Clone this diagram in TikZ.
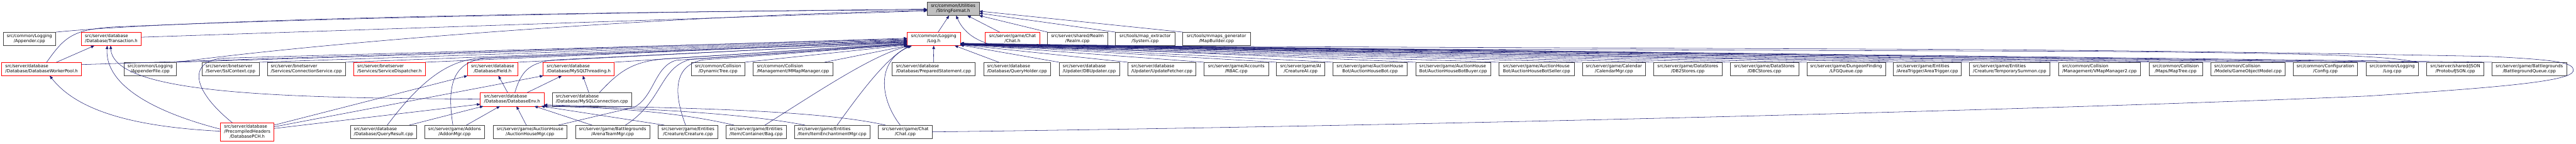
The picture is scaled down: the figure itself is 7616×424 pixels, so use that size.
\documentclass[tikz,border=0pt]{standalone}
\usepackage{fontspec}
\usetikzlibrary{arrows.meta}
\newfontfamily\dxf{DejaVu Sans}
\definecolor{edgec}{HTML}{191970}
\definecolor{bdr}{HTML}{404040}
\definecolor{gfill}{HTML}{BFBFBF}
\definecolor{rbdr}{HTML}{FF0000}
\newsavebox\lbA \newsavebox\lbB \newsavebox\lbC \newlength\lbW
\newcommand\dxl[2]{\sbox\lbA{#1}\sbox\lbB{#2}\setlength\lbW{\wd\lbA}\ifdim\wd\lbB>\lbW\setlength\lbW{\wd\lbB}\fi\begin{tabular}{@{}c@{}}\makebox[\lbW][l]{#1}\\#2\end{tabular}}
\newcommand\dxlll[3]{\sbox\lbA{#1}\sbox\lbB{#2}\sbox\lbC{#3}\setlength\lbW{\wd\lbA}\ifdim\wd\lbB>\lbW\setlength\lbW{\wd\lbB}\fi\ifdim\wd\lbC>\lbW\setlength\lbW{\wd\lbC}\fi\begin{tabular}{@{}c@{}}\makebox[\lbW][l]{#1}\\\makebox[\lbW][l]{#2}\\#3\end{tabular}}
\newcommand\nd[7]{\node[#1,minimum width={(#4-#3)*1pt},minimum height={(#6-#5)*1pt}] (#2) at ({(#3+#4)/2},{(#5+#6)/2}) {#7};}
\tikzset{
  box/.style={draw=bdr, fill=white, line width=1pt, inner sep=0pt, outer sep=0pt, font={\dxf\fontsize{12.8}{15}\selectfont}},
  rbox/.style={box, draw=rbdr},
  gbox/.style={box, fill=gfill, draw=bdr},
  inc/.style={draw=edgec, line width=1pt, -{Triangle[length=10pt,width=8pt]}},
}
\begin{document}
\begin{tikzpicture}[x=1pt,y=-1pt]
\useasboundingbox (0,0) rectangle (7616,424);
% row 0
\nd{gbox}{sf}{2741}{2895}{6}{46}{\dxl{src/common/Utilities}{/StringFormat.h}}
% row 1
\nd{box}{app}{9}{165}{95}{135}{\dxl{src/common/Logging}{/Appender.cpp}}
\nd{rbox}{tra}{241}{417}{95}{135}{\dxl{src/server/database}{/Database/Transaction.h}}
\nd{rbox}{logh}{2682}{2839}{95}{135}{\dxl{src/common/Logging}{/Log.h}}
\nd{rbox}{chath}{2913}{3074}{95}{135}{\dxl{src/server/game/Chat}{/Chat.h}}
\nd{box}{realm}{3097}{3274}{95}{135}{\dxl{src/server/shared/Realm}{/Realm.cpp}}
\nd{box}{sys}{3298}{3473}{95}{135}{\dxl{src/tools/map\_extractor}{/System.cpp}}
\nd{box}{mapb}{3497}{3696}{95}{135}{\dxl{src/tools/mmaps\_generator}{/MapBuilder.cpp}}
% row 2
\nd{rbox}{dwp}{5}{241}{184}{224}{\dxl{src/server/database}{/Database/DatabaseWorkerPool.h}}
\nd{box}{apf}{366}{522}{184}{224}{\dxl{src/common/Logging}{/AppenderFile.cpp}}
\nd{box}{ssl}{597}{766}{184}{224}{\dxl{src/server/bnetserver}{/Server/SslContext.cpp}}
\nd{box}{cons}{790}{1021}{184}{224}{\dxl{src/server/bnetserver}{/Services/ConnectionService.cpp}}
\nd{rbox}{sdis}{1046}{1257}{184}{224}{\dxl{src/server/bnetserver}{/Services/ServiceDispatcher.h}}
\nd{rbox}{field}{1382}{1531}{184}{224}{\dxl{src/server/database}{/Database/Field.h}}
\nd{rbox}{mysqlt}{1606}{1816}{184}{224}{\dxl{src/server/database}{/Database/MySQLThreading.h}}
\nd{box}{dyn}{2044}{2202}{184}{224}{\dxl{src/common/Collision}{/DynamicTree.cpp}}
\nd{box}{mmap}{2227}{2462}{184}{224}{\dxl{src/common/Collision}{/Management/MMapManager.cpp}}
\nd{box}{prep}{2637}{2883}{184}{224}{\dxl{src/server/database}{/Database/PreparedStatement.cpp}}
\nd{box}{qh}{2908}{3106}{184}{224}{\dxl{src/server/database}{/Database/QueryHolder.cpp}}
\nd{box}{dbu}{3131}{3310}{184}{224}{\dxl{src/server/database}{/Updater/DBUpdater.cpp}}
\nd{box}{upf}{3334}{3536}{184}{224}{\dxl{src/server/database}{/Updater/UpdateFetcher.cpp}}
\nd{box}{rbac}{3560}{3750}{184}{224}{\dxl{src/server/game/Accounts}{/RBAC.cpp}}
\nd{box}{cai}{3774}{3917}{184}{224}{\dxl{src/server/game/AI}{/CreatureAI.cpp}}
\nd{box}{ahb}{3941}{4160}{184}{224}{\dxl{src/server/game/AuctionHouse}{Bot/AuctionHouseBot.cpp}}
\nd{box}{ahbb}{4185}{4408}{184}{224}{\dxl{src/server/game/AuctionHouse}{Bot/AuctionHouseBotBuyer.cpp}}
\nd{box}{ahbs}{4432}{4654}{184}{224}{\dxl{src/server/game/AuctionHouse}{Bot/AuctionHouseBotSeller.cpp}}
\nd{box}{cal}{4678}{4865}{184}{224}{\dxl{src/server/game/Calendar}{/CalendarMgr.cpp}}
\nd{box}{db2}{4889}{5091}{184}{224}{\dxl{src/server/game/DataStores}{/DB2Stores.cpp}}
\nd{box}{dbc}{5115}{5318}{184}{224}{\dxl{src/server/game/DataStores}{/DBCStores.cpp}}
\nd{box}{lfg}{5342}{5574}{184}{224}{\dxl{src/server/game/DungeonFinding}{/LFGQueue.cpp}}
\nd{box}{at}{5598}{5798}{184}{224}{\dxl{src/server/game/Entities}{/AreaTrigger/AreaTrigger.cpp}}
\nd{box}{ts}{5822}{6061}{184}{224}{\dxl{src/server/game/Entities}{/Creature/TemporarySummon.cpp}}
\nd{box}{vmap}{6086}{6328}{184}{224}{\dxl{src/common/Collision}{/Management/VMapManager2.cpp}}
\nd{box}{mtree}{6353}{6512}{184}{224}{\dxl{src/common/Collision}{/Maps/MapTree.cpp}}
\nd{box}{gom}{6536}{6756}{184}{224}{\dxl{src/common/Collision}{/Models/GameObjectModel.cpp}}
\nd{box}{cfg}{6780}{6970}{184}{224}{\dxl{src/common/Configuration}{/Config.cpp}}
\nd{box}{logcpp}{6995}{7150}{184}{224}{\dxl{src/common/Logging}{/Log.cpp}}
\nd{box}{pjson}{7174}{7344}{184}{224}{\dxl{src/server/shared/JSON}{/ProtobufJSON.cpp}}
\nd{box}{bgq}{7368}{7588}{184}{224}{\dxl{src/server/game/Battlegrounds}{/BattlegroundQueue.cpp}}
% row 3
\nd{rbox}{denv}{1420}{1608}{274}{314}{\dxl{src/server/database}{/Database/DatabaseEnv.h}}
\nd{box}{mysqlc}{1633}{1867}{274}{314}{\dxl{src/server/database}{/Database/MySQLConnection.cpp}}
% row 4
\nd{rbox}{pch}{652}{810}{363}{417}{\dxlll{src/server/database}{/PrecompiledHeaders}{/DatabasePCH.h}}
\nd{box}{qr}{1037}{1231}{370}{410}{\dxl{src/server/database}{/Database/QueryResult.cpp}}
\nd{box}{addon}{1255}{1433}{370}{410}{\dxl{src/server/game/Addons}{/AddonMgr.cpp}}
\nd{box}{ahm}{1458}{1676}{370}{410}{\dxl{src/server/game/AuctionHouse}{/AuctionHouseMgr.cpp}}
\nd{box}{atm}{1701}{1921}{370}{410}{\dxl{src/server/game/Battlegrounds}{/ArenaTeamMgr.cpp}}
\nd{box}{crea}{1946}{2122}{370}{410}{\dxl{src/server/game/Entities}{/Creature/Creature.cpp}}
\nd{box}{bag}{2147}{2324}{370}{410}{\dxl{src/server/game/Entities}{/Item/Container/Bag.cpp}}
\nd{box}{iem}{2348}{2572}{370}{410}{\dxl{src/server/game/Entities}{/Item/ItemEnchantmentMgr.cpp}}
\nd{box}{chatcpp}{2597}{2756}{370}{410}{\dxl{src/server/game/Chat}{/Chat.cpp}}

% ---- edges into StringFormat.h
\draw[inc] (app.north east) .. controls (500,62) and (1500,36) .. ([yshift=-3pt]sf.west);
\draw[inc] ([xshift=15pt]dwp.north) .. controls (190,110) and (215,88) .. (330,80) .. controls (900,55) and (1800,36) .. ([yshift=-1pt]sf.west);
\draw[inc] ([yshift=5pt]tra.east) -- ([yshift=-6pt]sf.west);
\draw[inc] (apf.north east) .. controls (1000,120) and (2000,45) .. ([yshift=-5pt]sf.west);
\draw[inc] ([xshift=13pt]logh.north) -- ([xshift=-12pt]sf.south);
\draw[inc] ([xshift=-38pt]chath.north) -- ([xshift=42pt]sf.south);
\draw[inc] (realm.north west) -- (sf.south east);
\draw[inc] (sys.north west) -- ([yshift=7pt]sf.south east);
\draw[inc] (mapb.north west) -- ([yshift=13pt]sf.south east);
\draw[inc] ([xshift=-3pt]logcpp.north east) .. controls (7060,166) and (6900,158) .. (6200,152) -- (3000,141) .. controls (2900,138) and (2850,100) .. ([xshift=9pt]sf.south);

% ---- edges into Transaction.h / DatabaseWorkerPool.h
\draw[inc] ([xshift=44pt]dwp.north) -- ([xshift=-50pt]tra.south);
\draw[inc] ([yshift=8pt]pch.west) .. controls (450,330) and (310,250) .. ([xshift=-12pt]tra.south);
\draw[inc] ([yshift=1pt]denv.west) .. controls (800,290) and (335,275) .. ([xshift=-2pt]tra.south);
\draw[inc] ([yshift=2pt]pch.west) .. controls (400,375) and (230,330) .. ([xshift=24pt]dwp.south);

% ---- DatabasePCH.h / DatabaseEnv.h etc.
\draw[inc] ([yshift=20pt]pch.east) -- (field.south west);
\draw[inc] ([yshift=15pt]pch.east) -- (mysqlt.south west);
\draw[inc] ([yshift=10pt]pch.east) -- ([yshift=-14pt]denv.west);
\draw[inc] ([xshift=76pt]qr.north) -- ([xshift=9pt]denv.south west);
\draw[inc] ([xshift=35pt]addon.north) -- ([xshift=58pt]denv.south west);
\draw[inc] ([xshift=-11pt]ahm.north) -- ([xshift=107pt]denv.south west);
\draw[inc] ([xshift=-61pt]atm.north) -- ([xshift=160pt]denv.south west);
\draw[inc] ([xshift=18pt]crea.north west) -- ([xshift=-8pt]denv.south east);
\draw[inc] ([xshift=23pt]bag.north west) .. controls (2000,330) and (1800,318) .. (denv.south east);
\draw[inc] ([xshift=32pt]iem.north west) .. controls (2200,335) and (1900,320) .. ([yshift=2pt]denv.south east);
\draw[inc] ([xshift=21pt]chatcpp.north west) .. controls (2400,320) and (1900,318) .. ([yshift=4pt]denv.south east);
\draw[inc] ([xshift=-13pt]denv.north) -- ([xshift=17pt]field.south);
\draw[inc] ([xshift=44pt]denv.north) -- ([xshift=-50pt]mysqlt.south);
\draw[inc] ([xshift=-9pt]mysqlc.north) -- ([xshift=12pt]mysqlt.south);

% ---- edges into Log.h from the left
\draw[inc] ([yshift=13pt]dwp.east) -- ([yshift=2pt]logh.west);
\draw[inc] ([xshift=-44pt]pch.north) .. controls (560,260) and (560,180) .. (660,172) -- (logh.west);
\draw[inc] (apf.north east) -- ([yshift=-2pt]logh.west);
\draw[inc] (ssl.north east) -- ([yshift=-4pt]logh.west);
\draw[inc] (cons.north east) -- ([yshift=-5pt]logh.west);
\draw[inc] (sdis.north east) -- ([yshift=-7pt]logh.west);
\draw[inc] ([xshift=11pt]qr.north) .. controls (1250,230) and (1330,178) .. (1420,172) -- ([yshift=-8pt]logh.west);
\draw[inc] ([xshift=-5pt]addon.north) .. controls (1320,250) and (1340,180) .. (1440,172) -- ([yshift=-9pt]logh.west);
\draw[inc] (field.north east) -- ([yshift=-10pt]logh.west);
\draw[inc] ([xshift=8pt]denv.north) .. controls (1540,215) and (1560,185) .. (1640,177) -- ([yshift=-11pt]logh.west);
\draw[inc] (mysqlt.north east) -- ([yshift=-13pt]logh.west);
\draw[inc] ([xshift=22pt]mysqlc.north) .. controls (1840,200) and (1880,180) .. (1980,173) -- ([yshift=-14pt]logh.west);
\draw[inc] ([xshift=84pt]ahm.north) -- (1875,317) .. controls (1935,285) and (1935,195) .. (2000,178) -- ([yshift=-15pt]logh.west);
\draw[inc] ([xshift=38pt]atm.north) .. controls (1960,300) and (1950,200) .. (2040,176) -- ([yshift=-16pt]logh.west);
\draw[inc] ([xshift=-7pt]crea.north) .. controls (1985,260) and (2000,190) .. (2080,177) -- ([yshift=-17pt]logh.west);
\draw[inc] (dyn.north east) -- ([yshift=-18pt]logh.west);
\draw[inc] ([xshift=-24pt]mmap.north east) -- ([xshift=2pt]logh.south west);
\draw[inc] ([xshift=26pt]bag.north) .. controls (2450,250) and (2580,165) .. ([xshift=6pt]logh.south west);
\draw[inc] ([xshift=15pt]iem.north) .. controls (2560,250) and (2630,165) .. ([xshift=10pt]logh.south west);
\draw[inc] ([xshift=-15pt]chatcpp.north) .. controls (2600,290) and (2590,180) .. ([xshift=14pt]logh.south west);

% ---- edges into Log.h from the right
\draw[inc] (prep.north) -- (logh.south);
\draw[inc] ([xshift=-54pt]qh.north) -- ([xshift=62pt]logh.south);
\draw[inc] (dbu.north west) -- ([yshift=2pt]logh.south east);
\draw[inc] (upf.north west) -- ([yshift=3pt]logh.south east);
\draw[inc] (rbac.north west) -- ([yshift=4pt]logh.south east);
\draw[inc] (cai.north west) -- ([yshift=5pt]logh.south east);
\draw[inc] (ahb.north west) -- ([yshift=6pt]logh.south east);
\draw[inc] (ahbb.north west) -- ([yshift=7pt]logh.south east);
\draw[inc] (ahbs.north west) -- ([yshift=2pt]logh.south east);
\draw[inc] (cal.north west) -- ([yshift=3pt]logh.south east);
\draw[inc] (db2.north west) -- ([yshift=4pt]logh.south east);
\draw[inc] (dbc.north west) -- ([yshift=5pt]logh.south east);
\draw[inc] (lfg.north west) -- ([yshift=6pt]logh.south east);
\draw[inc] (at.north west) -- ([yshift=7pt]logh.south east);
\draw[inc] (ts.north west) -- ([yshift=2pt]logh.south east);
\draw[inc] (vmap.north west) -- ([yshift=3pt]logh.south east);
\draw[inc] (mtree.north west) -- ([yshift=4pt]logh.south east);
\draw[inc] (gom.north west) -- ([yshift=5pt]logh.south east);
\draw[inc] (cfg.north west) -- ([yshift=6pt]logh.south east);
\draw[inc] (logcpp.north west) -- ([yshift=7pt]logh.south east);
\draw[inc] (pjson.north west) -- ([yshift=4pt]logh.south east);
\draw[inc] (bgq.north west) -- ([yshift=5pt]logh.south east);

% ---- Chat.cpp -> Chat.h (loop round the right end)
\coordinate (lp1) at (7000,284);
\draw[inc] (chatcpp.east) .. controls (4500,368) and (6300,315) .. (lp1) .. controls (7400,258) and (7600,240) .. (7608,210) .. controls (7612,185) and (7560,177) .. (7362,167) .. controls (6900,158) and (6300,148) .. (5500,145) -- ([xshift=-3pt]chath.south east);
\end{tikzpicture}
\end{document}
